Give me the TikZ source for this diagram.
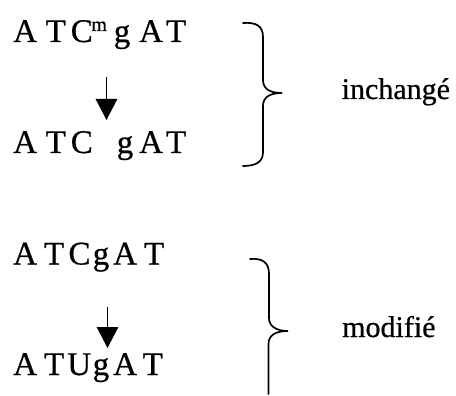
\documentclass[tikz,border=0pt]{standalone}
\usepackage{fontspec}
\setmainfont[FakeBold=0.6]{Liberation Serif}
\usetikzlibrary{arrows.meta}
\newcommand\lt[2]{\rlap{\hspace*{#1pt}#2}}
\tikzset{
  seq/.style={anchor=base west, inner sep=0pt, font=\fontsize{33}{33}\selectfont},
  lbl/.style={anchor=base west, inner sep=0pt, font=\fontsize{30}{30}\selectfont},
  conv/.style={line width=1.3pt, -{Triangle[length=21pt,width=21.5pt]}},
  brace/.style={line width=1.7pt, line cap=round}
}
\begin{document}
\begin{tikzpicture}[x=1pt,y=-1pt]
\useasboundingbox (0,0) rectangle (456,396);
% sequences
\node[seq] (r1) at (0,42) {\lt{12.5}{A}\lt{45}{T}\lt{70.1}{C}\lt{90.7}{\raisebox{11pt}{\fontsize{20}{20}\selectfont m}}\lt{113.1}{g}\lt{138.5}{A}\lt{165.4}{T}};
\node[seq] (r2) at (0,153) {\lt{12.5}{A}\lt{45}{T}\lt{70.1}{C}\lt{116.1}{g}\lt{138.5}{A}\lt{165.4}{T}};
\node[seq] (r3) at (0,264.5) {\lt{12.5}{A}\lt{43.4}{T}\lt{67.8}{C}\lt{92.1}{g}\lt{112.5}{A}\lt{143.4}{T}};
\node[seq] (r4) at (0,375) {\lt{12.5}{A}\lt{43.4}{T}\lt{66.6}{U}\lt{92.1}{g}\lt{112.5}{A}\lt{142}{T}};
% labels
\node[lbl] (l1) at (341.5,99) {inchangé};
\node[lbl] (l2) at (342,337) {modifié};
% arrows
\coordinate (a1s) at (106.5,77);
\coordinate (a1e) at (106.5,120);
\coordinate (a2s) at (107.5,307);
\coordinate (a2e) at (107.5,348);
\draw[conv] (a1s) -- (a1e);
\draw[conv] (a2s) -- (a2e);
% braces
\coordinate (b1t) at (243,23);
\coordinate (b1m) at (282,93);
\coordinate (b1b) at (243,166);
\draw[brace] (b1t) .. controls (256,22) and (263,26) .. (263,37)
  -- (263,80) .. controls (263,89) and (270,93) .. (b1m)
  .. controls (270,93) and (263,97) .. (263,106)
  -- (263,152) .. controls (263,162) and (256,166) .. (b1b);
\coordinate (b2t) at (250,259);
\coordinate (b2m) at (288,331);
\coordinate (b2b) at (268.5,394);
\draw[brace] (b2t) .. controls (262,258) and (269,262) .. (269,274)
  -- (269,318) .. controls (269,326) and (276,331) .. (b2m)
  .. controls (276,331) and (268.5,335) .. (268.5,344)
  -- (b2b);
\end{tikzpicture}
\end{document}
